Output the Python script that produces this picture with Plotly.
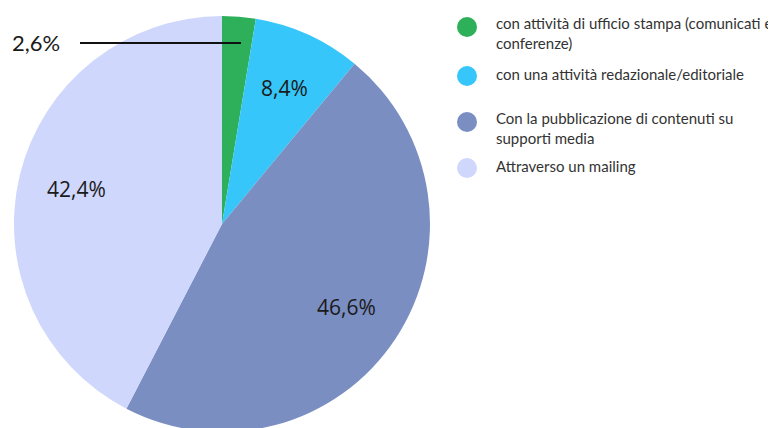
import math
import plotly.graph_objects as go

categories = [
    "con attività di ufficio stampa (comunicati e<br>conferenze)",
    "con una attività redazionale/editoriale",
    "Con la pubblicazione di contenuti su<br>supporti media",
    "Attraverso un mailing",
]
values = [2.6, 8.4, 46.6, 42.4]
colors = ["#2EAF5A", "#36C6F9", "#7B8EC2", "#CFD7FC"]

W, H = 776, 428
OFF = 8  # page body margin offset
def px(x):  # page x -> paper
    return (x - OFF) / W
def py(y):  # page y -> paper
    return 1 - (y - OFF) / H

cx, cy, r = 222, 224, 208  # page pixels

fig = go.Figure()
fig.add_trace(go.Pie(
    values=values,
    labels=[c.replace("<br>", " ") for c in categories],
    marker=dict(colors=colors, line=dict(width=0)),
    sort=False,
    direction="clockwise",
    rotation=0,
    textinfo="none",
    hoverinfo="label+percent",
    showlegend=False,
    domain=dict(x=[px(cx - r), px(cx + r)], y=[py(cy + r), py(cy - r)]),
))

def fmt(v):
    return f"{v:.1f}".replace(".", ",") + "%"

annotations = []
shapes = []
total = sum(values)
cum = 0
for i, v in enumerate(values):
    mid = (cum + v / 2) / total * 2 * math.pi
    cum += v
    if i == 0:
        continue
    lx = cx + 0.72 * r * math.sin(mid)
    ly = cy - 0.72 * r * math.cos(mid)
    annotations.append(dict(x=px(lx), y=py(ly), xref="paper", yref="paper",
                            xanchor="center", yanchor="middle",
                            text=fmt(v), showarrow=False,
                            font=dict(family="Open Sans", size=21, color="#1a1a1a")))

# small slice label with leader line
annotations.append(dict(x=px(36), y=py(43), xref="paper", yref="paper",
                        xanchor="center", yanchor="middle",
                        text=fmt(values[0]), showarrow=False,
                        font=dict(family="Lato", size=22, color="#1a1a1a")))
shapes.append(dict(type="line", xref="paper", yref="paper",
                   x0=px(80), x1=px(241), y0=py(43), y1=py(43),
                   line=dict(color="#111111", width=2)))

# legend
leg_y = [27, 76, 122, 168]
for i, (lab, col) in enumerate(zip(categories, colors)):
    y = leg_y[i]
    shapes.append(dict(type="circle", xref="paper", yref="paper",
                       x0=px(467 - 10), x1=px(467 + 10),
                       y0=py(y + 10), y1=py(y - 10),
                       fillcolor=col, line=dict(width=0)))
    nlines = lab.count("<br>") + 1
    yc = y - 2 + 8 * (nlines - 1)
    annotations.append(dict(x=px(494), y=py(yc), xref="paper", yref="paper",
                            xanchor="left", yanchor="middle", align="left",
                            text=lab, showarrow=False,
                            font=dict(family="Lato", size=15, color="#333333")))

fig.update_layout(
    width=W, height=H,
    margin=dict(l=0, r=0, t=0, b=0),
    paper_bgcolor="white",
    plot_bgcolor="white",
    annotations=annotations,
    shapes=shapes,
)

fig.write_html("out.html")
